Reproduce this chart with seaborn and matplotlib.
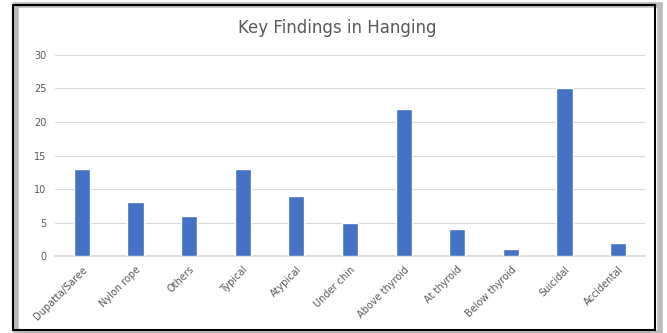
import matplotlib
matplotlib.use("Agg")
import matplotlib.pyplot as plt
import seaborn as sns
import pandas as pd
from matplotlib.patches import Rectangle

categories = ["Dupatta/Saree", "Nylon rope", "Others", "Typical", "Atypical",
              "Under chin", "Above thyroid", "At thyroid", "Below thyroid",
              "Suicidal", "Accidental"]
values = [13, 8, 6, 13, 9, 5, 22, 4, 1, 25, 2]
yticks = [0, 5, 10, 15, 20, 25, 30]

sns.set_theme(style="white")
plt.rcParams['font.family'] = ['DejaVu Sans']

df = pd.DataFrame({"cat": categories, "val": values})

fig = plt.figure(figsize=(6.67, 3.33), dpi=100)
ax = fig.add_axes([0.0825, 0.231, 0.8845, 0.604])
sns.barplot(data=df, x="cat", y="val", color="#4472C4", width=0.3, ax=ax,
            saturation=1, zorder=3)
ax.set_ylim(0, 30)
ax.set_yticks(yticks)
ax.set_xlim(-0.5, len(categories) - 0.5)
ax.grid(axis="y", color="#D9D9D9", linewidth=0.8, zorder=0)
for s in ["top", "right", "left"]:
    ax.spines[s].set_visible(False)
ax.spines["bottom"].set_color("#D9D9D9")
ax.set_xlabel("")
ax.set_ylabel("")
ax.tick_params(axis="both", length=0, labelsize=7, colors="#595959", pad=6)
plt.setp(ax.get_xticklabels(), rotation=45, ha="right", rotation_mode="anchor")
fig.text(0.505, 0.915, "Key Findings in Hanging", ha="center", va="center",
         fontsize=12, color="#595959")

# frame with shadow
fig.patches.append(Rectangle((0.024, 0.0), 0.966, 0.985, transform=fig.transFigure,
                             fill=False, edgecolor="#BBBBBB", linewidth=4))
fig.patches.append(Rectangle((0.02, 0.01), 0.962, 0.975, transform=fig.transFigure,
                             fill=False, edgecolor="black", linewidth=1.5))
fig.savefig("out.png", dpi=100)
